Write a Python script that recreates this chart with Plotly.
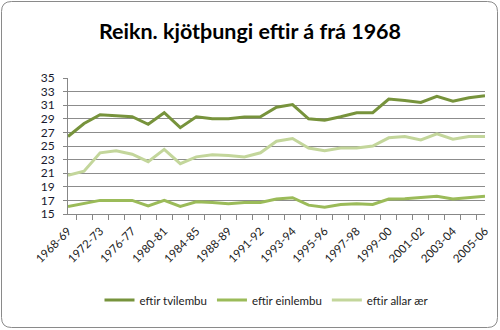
import plotly.graph_objects as go

# Seasons (biennial until 1988-89, then yearly)
seasons = ["1968-69", "1970-71", "1972-73", "1974-75", "1976-77", "1978-79",
           "1980-81", "1982-83", "1984-85", "1986-87", "1988-89", "1990-91",
           "1991-92", "1992-93", "1993-94", "1994-95", "1995-96", "1996-97",
           "1997-98", "1998-99", "1999-00", "2000-01", "2001-02", "2002-03",
           "2003-04", "2004-05", "2005-06"]

tvilembu = [26.4, 28.3, 29.6, 29.5, 29.3, 28.2, 29.9, 27.7, 29.3, 29.0, 29.0,
            29.25, 29.3, 30.7, 31.1, 29.0, 28.8, 29.3, 29.9, 29.9, 31.9, 31.7,
            31.4, 32.3, 31.6, 32.1, 32.4]
einlembu = [16.1, 16.5, 17.0, 17.0, 17.0, 16.2, 17.0, 16.1, 16.8, 16.7, 16.5,
            16.7, 16.7, 17.2, 17.4, 16.3, 16.0, 16.4, 16.5, 16.4, 17.2, 17.25,
            17.4, 17.6, 17.2, 17.45, 17.6]
allar_aer = [20.7, 21.3, 24.0, 24.3, 23.8, 22.7, 24.5, 22.4, 23.4, 23.7, 23.6,
             23.4, 24.0, 25.7, 26.1, 24.7, 24.3, 24.7, 24.7, 25.0, 26.2, 26.4,
             25.9, 26.8, 26.0, 26.4, 26.4]

series_names = ["eftir tvilembu", "eftir einlembu", "eftir allar ær"]
series_colors = ["#77933C", "#9BBB59", "#C3D69B"]
y_ticks = list(range(15, 36, 2))

# every other season is labelled on the axis
tick_text = [s if i % 2 == 0 else "" for i, s in enumerate(seasons)]

W, H = 500, 330
L, R, T, B = 68, 15, 78, 116

fig = go.Figure()
for name, vals, col in zip(series_names, [tvilembu, einlembu, allar_aer], series_colors):
    fig.add_trace(go.Scatter(x=seasons, y=vals, name=name, mode="lines",
                             line=dict(color=col, width=3)))

# rounded outer frame in paper coordinates
pw, ph = W - L - R, H - T - B
def px(x):
    return (x - L) / pw
def py(y):
    return (H - B - y) / ph
x0, x1, y0, y1, r = 1.5, 497.5, 1.5, 327.5, 10
path = (f"M {px(x0 + r)} {py(y0)} L {px(x1 - r)} {py(y0)} "
        f"Q {px(x1)} {py(y0)} {px(x1)} {py(y0 + r)} "
        f"L {px(x1)} {py(y1 - r)} Q {px(x1)} {py(y1)} {px(x1 - r)} {py(y1)} "
        f"L {px(x0 + r)} {py(y1)} Q {px(x0)} {py(y1)} {px(x0)} {py(y1 - r)} "
        f"L {px(x0)} {py(y0 + r)} Q {px(x0)} {py(y0)} {px(x0 + r)} {py(y0)} Z")
fig.add_shape(type="path", path=path, xref="paper", yref="paper",
              line=dict(color="#8a8a8a", width=1), layer="below")

fig.update_layout(
    width=W, height=H,
    margin=dict(l=L, r=R, t=T, b=B, autoexpand=False),
    paper_bgcolor="white", plot_bgcolor="white",
    font=dict(family="Lato, Open Sans, sans-serif", color="#222222"),
    title=dict(text="<b>Reikn. kjötþungi eftir á frá 1968</b>",
               x=0.5, xanchor="center", xref="container",
               y=1 - 31 / H, yanchor="middle", yref="container",
               font=dict(size=21.5, color="#000000")),
    showlegend=True,
    legend=dict(orientation="h", x=0.5 - 10 / pw, xanchor="center",
                y=py(300), yanchor="middle",
                font=dict(size=11.5, color="#222222"),
                itemwidth=30, bgcolor="rgba(0,0,0,0)"),
    xaxis=dict(type="category", tickson="boundaries",
               tickvals=seasons, ticktext=tick_text,
               tickangle=-45, tickfont=dict(size=11.5, color="#222222"),
               ticks="outside", ticklen=5, tickcolor="#878787",
               ticklabelstandoff=5, automargin=False,
               showline=True, linecolor="#878787", linewidth=1,
               showgrid=False, zeroline=False, fixedrange=True),
    yaxis=dict(range=[15, 35], tickvals=y_ticks,
               tickfont=dict(size=12, color="#1a1a2e"),
               ticks="outside", ticklen=4, tickcolor="#878787",
               ticklabelstandoff=6, automargin=False,
               showline=True, linecolor="#878787", linewidth=1,
               showgrid=True, gridcolor="#8c8c8c", gridwidth=1,
               zeroline=False, fixedrange=True),
)

fig.write_html("out.html")
